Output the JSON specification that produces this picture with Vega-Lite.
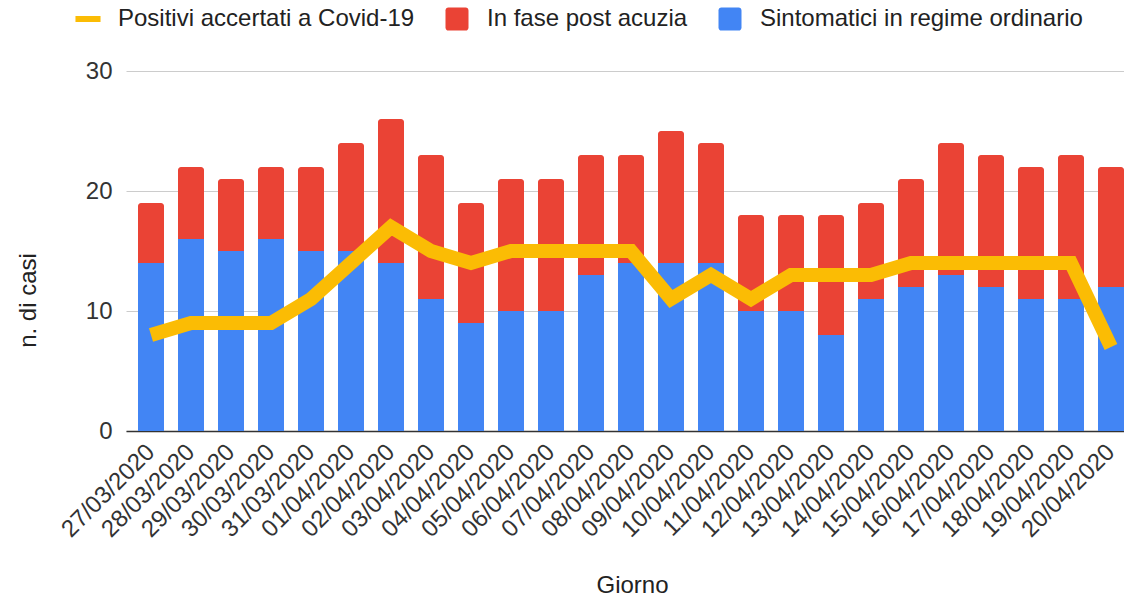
{
  "$schema": "https://vega.github.io/schema/vega-lite/v6.json",
  "width": 998,
  "height": 360,
  "autosize": {"type": "none"},
  "padding": {"left": 126, "top": 71, "right": 0, "bottom": 166},
  "background": "white",
  "config": {
    "view": {"stroke": null},
    "font": "Liberation Sans",
    "axisY": {
      "grid": true,
      "gridColor": "#cccccc",
      "domain": false,
      "ticks": false,
      "labelFontSize": 24,
      "labelColor": "#333333",
      "labelPadding": 14,
      "titleFontSize": 24,
      "titleFontWeight": "normal",
      "titleColor": "#222222",
      "titleAngle": -90,
      "titleX": -98,
      "titleY": 229,
      "titleAlign": "center",
      "titleBaseline": "middle"
    }
  },
  "data": {
    "values": [
      {"giorno": "27/03/2020", "sintomatici": 14, "post_acuzia": 5, "positivi": 8},
      {"giorno": "28/03/2020", "sintomatici": 16, "post_acuzia": 6, "positivi": 9},
      {"giorno": "29/03/2020", "sintomatici": 15, "post_acuzia": 6, "positivi": 9},
      {"giorno": "30/03/2020", "sintomatici": 16, "post_acuzia": 6, "positivi": 9},
      {"giorno": "31/03/2020", "sintomatici": 15, "post_acuzia": 7, "positivi": 11},
      {"giorno": "01/04/2020", "sintomatici": 15, "post_acuzia": 9, "positivi": 14},
      {"giorno": "02/04/2020", "sintomatici": 14, "post_acuzia": 12, "positivi": 17},
      {"giorno": "03/04/2020", "sintomatici": 11, "post_acuzia": 12, "positivi": 15},
      {"giorno": "04/04/2020", "sintomatici": 9, "post_acuzia": 10, "positivi": 14},
      {"giorno": "05/04/2020", "sintomatici": 10, "post_acuzia": 11, "positivi": 15},
      {"giorno": "06/04/2020", "sintomatici": 10, "post_acuzia": 11, "positivi": 15},
      {"giorno": "07/04/2020", "sintomatici": 13, "post_acuzia": 10, "positivi": 15},
      {"giorno": "08/04/2020", "sintomatici": 14, "post_acuzia": 9, "positivi": 15},
      {"giorno": "09/04/2020", "sintomatici": 14, "post_acuzia": 11, "positivi": 11},
      {"giorno": "10/04/2020", "sintomatici": 14, "post_acuzia": 10, "positivi": 13},
      {"giorno": "11/04/2020", "sintomatici": 10, "post_acuzia": 8, "positivi": 11},
      {"giorno": "12/04/2020", "sintomatici": 10, "post_acuzia": 8, "positivi": 13},
      {"giorno": "13/04/2020", "sintomatici": 8, "post_acuzia": 10, "positivi": 13},
      {"giorno": "14/04/2020", "sintomatici": 11, "post_acuzia": 8, "positivi": 13},
      {"giorno": "15/04/2020", "sintomatici": 12, "post_acuzia": 9, "positivi": 14},
      {"giorno": "16/04/2020", "sintomatici": 13, "post_acuzia": 11, "positivi": 14},
      {"giorno": "17/04/2020", "sintomatici": 12, "post_acuzia": 11, "positivi": 14},
      {"giorno": "18/04/2020", "sintomatici": 11, "post_acuzia": 11, "positivi": 14},
      {"giorno": "19/04/2020", "sintomatici": 11, "post_acuzia": 12, "positivi": 14},
      {"giorno": "20/04/2020", "sintomatici": 12, "post_acuzia": 10, "positivi": 7}
    ]
  },
  "encoding": {
    "x": {
      "field": "giorno",
      "type": "ordinal",
      "sort": null,
      "scale": {"paddingInner": 0.35, "paddingOuter": 0.15, "align": 1},
      "axis": {
        "title": "Giorno",
        "labelAngle": -45,
        "labelAlign": "right",
        "labelBaseline": "middle",
        "labelPadding": 17,
        "labelDx": 8,
        "labelFontSize": 24,
        "labelColor": "#333333",
        "labelOverlap": false,
        "labelBound": false,
        "ticks": false,
        "domainColor": "#333333",
        "domainWidth": 1.5,
        "titleFontSize": 24,
        "titleFontWeight": "normal",
        "titleColor": "#222222",
        "titleX": 506,
        "titleY": 161,
        "titleAlign": "center",
        "titleBaseline": "alphabetic"
      }
    }
  },
  "layer": [
    {
      "mark": {"type": "bar", "color": "#4285f4"},
      "encoding": {
        "y": {
          "field": "sintomatici",
          "type": "quantitative",
          "scale": {"domain": [0, 30]},
          "title": "n. di casi",
          "axis": {"values": [0, 10, 20, 30]}
        },
        "color": {"datum": "Sintomatici in regime ordinario"}
      }
    },
    {
      "transform": [
        {"fold": ["sintomatici", "post_acuzia"], "as": ["serie", "n"]},
        {"stack": "n", "groupby": ["giorno"], "sort": [{"field": "serie", "order": "descending"}], "as": ["y0", "y1"]},
        {"filter": "datum.serie === 'post_acuzia'"}
      ],
      "mark": {"type": "bar", "cornerRadiusTopLeft": 3, "cornerRadiusTopRight": 3},
      "encoding": {
        "y": {"field": "y1", "type": "quantitative", "title": "n. di casi"},
        "y2": {"field": "y0"},
        "color": {"datum": "In fase post acuzia"}
      }
    },
    {
      "mark": {"type": "line", "strokeWidth": 14, "strokeJoin": "miter", "strokeCap": "butt"},
      "encoding": {
        "y": {"field": "positivi", "type": "quantitative", "title": "n. di casi"},
        "color": {
          "datum": "Positivi accertati a Covid-19",
          "scale": {
            "domain": ["Positivi accertati a Covid-19", "In fase post acuzia", "Sintomatici in regime ordinario"],
            "range": ["#fbbc04", "#ea4335", "#4285f4"]
          },
          "legend": {
            "orient": "none",
            "legendX": -50,
            "legendY": -64,
            "direction": "horizontal",
            "title": null,
            "padding": 0,
            "labelFontSize": 24,
            "labelColor": "#222222",
            "labelLimit": 0,
            "labelOffset": 18,
            "columnPadding": 30,
            "symbolSize": 529,
            "symbolStrokeWidth": 0,
            "encode": {
              "symbols": {
                "update": {
                  "shape": {"signal": "datum.value === 'Positivi accertati a Covid-19' ? 'M-1.09,-0.26H1.09V0.26H-1.09Z' : 'M-1,-0.75A0.25,0.25,0,0,1,-0.75,-1H0.75A0.25,0.25,0,0,1,1,-0.75V0.75A0.25,0.25,0,0,1,0.75,1H-0.75A0.25,0.25,0,0,1,-1,0.75Z'"},
                  "fill": {"signal": "scale('color', datum.value)"},
                  "fillOpacity": {"value": 1},
                  "opacity": {"value": 1},
                  "stroke": {"value": "transparent"}
                }
              }
            }
          }
        }
      }
    }
  ]
}
